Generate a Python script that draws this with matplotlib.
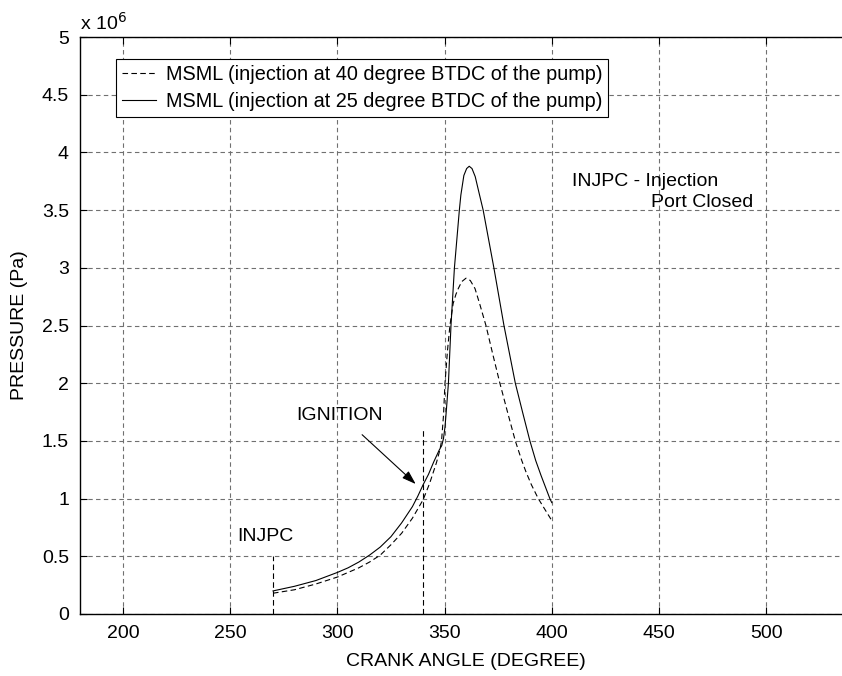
import matplotlib
matplotlib.use("Agg")
import matplotlib.pyplot as plt
import numpy as np

plt.rcParams['font.family'] = ['Liberation Sans', 'DejaVu Sans']

# crank angle (degree) and pressure (x 10^6 Pa)
ang_40 = [270, 280, 290, 300, 305, 310, 315, 320, 325, 330, 335, 337.5, 340, 343, 346.2,
          347.8, 348.6, 349.5, 350.2, 351.4, 352.5, 354, 355.3, 356.4, 358, 360, 362,
          364.2, 366.5, 369.3, 372.5, 375.8, 379.5, 383, 386, 388, 390.5, 393.7, 397, 400]
p_40 = [0.18, 0.21, 0.26, 0.32, 0.36, 0.40, 0.45, 0.51, 0.60, 0.70, 0.83, 0.91, 0.99,
        1.13, 1.31, 1.42, 1.50, 1.72, 2.00, 2.29, 2.50, 2.69, 2.77, 2.82, 2.88, 2.91,
        2.89, 2.82, 2.68, 2.50, 2.25, 2.00, 1.74, 1.50, 1.33, 1.23, 1.12, 1.00, 0.90, 0.81]

ang_25 = [270, 280, 290, 300, 305, 310, 315, 320, 325, 330, 335, 337.5, 340, 342.5,
          345, 347.5, 348.7, 349.5, 350.2, 350.9, 351.8, 353, 354.6, 356.9, 357.6,
          359, 360.3, 361.5, 362.8, 364.3, 366.2, 368, 370.5, 373, 377.7, 383, 386.5,
          389.8, 392.5, 395, 399.1, 400]
p_25 = [0.20, 0.24, 0.29, 0.36, 0.40, 0.45, 0.51, 0.58, 0.67, 0.79, 0.93, 1.02, 1.12,
        1.21, 1.32, 1.42, 1.46, 1.52, 1.62, 1.78, 2.00, 2.50, 3.00, 3.50, 3.63,
        3.80, 3.86, 3.88, 3.86, 3.79, 3.64, 3.50, 3.25, 3.00, 2.50, 2.00, 1.74,
        1.50, 1.33, 1.20, 1.00, 0.965]

labels = ['MSML (injection at 40 degree BTDC of the pump)',
          'MSML (injection at 25 degree BTDC of the pump)']

xticks = [200, 250, 300, 350, 400, 450, 500]
yticks = [0, 0.5, 1, 1.5, 2, 2.5, 3, 3.5, 4, 4.5, 5]
yticklabels = ['0', '0.5', '1', '1.5', '2', '2.5', '3', '3.5', '4', '4.5', '5']

fig = plt.figure(figsize=(8.42, 6.76), dpi=100)
ax = fig.add_axes([80/842, 62/676, 772/842, 577/676])

ax.plot(ang_40, p_40, color='black', lw=0.8, ls=(0, (5, 3)), label=labels[0])
ax.plot(ang_25, p_25, color='black', lw=0.8, ls='-', label=labels[1])

# markers for INJPC and ignition
ax.plot([270, 270], [0, 0.5], color='black', lw=0.8, ls=(0, (5, 3)))
ax.plot([340, 340], [0, 1.61], color='black', lw=0.8, ls=(0, (5, 3)))

ax.set_xlim(180, 540)
ax.set_ylim(0, 5)
ax.set_xticks(xticks)
ax.set_yticks(yticks)
ax.set_yticklabels(yticklabels)
ax.tick_params(direction='in', length=5, labelsize=14, top=True, right=True, pad=8)
ax.grid(True, color='#707070', ls=(0, (4, 3)), lw=0.8)
for s in ax.spines.values():
    s.set_linewidth(1.0)

ax.set_xlabel('CRANK ANGLE (DEGREE)', fontsize=14, labelpad=8)
ax.set_ylabel('PRESSURE (Pa)', fontsize=14, labelpad=10)
ax.text(0.0, 1.005, 'x 10$^6$', transform=ax.transAxes, fontsize=14, va='bottom', ha='left')

ax.text(281, 1.72, 'IGNITION', fontsize=14, va='center', ha='left')
ax.annotate('', xy=(337.5, 1.11), xytext=(310.6, 1.57),
            arrowprops=dict(arrowstyle='-|>,head_length=0.6,head_width=0.2',
                            color='black', lw=0.8, mutation_scale=14))
ax.text(253.5, 0.67, 'INJPC', fontsize=14, va='center', ha='left')
ax.text(409.5, 3.75, 'INJPC - Injection', fontsize=14, va='center', ha='left')
ax.text(446.5, 3.57, 'Port Closed', fontsize=14, va='center', ha='left')

leg = ax.legend(loc='upper left', bbox_to_anchor=(36/772, 1 - 22/577), fontsize=14.3,
                fancybox=False, framealpha=1, edgecolor='black', handlelength=1.7,
                borderpad=0.3, labelspacing=0.42, handletextpad=0.5, borderaxespad=0)
leg.get_frame().set_linewidth(0.8)

fig.savefig('out.png', dpi=100)
